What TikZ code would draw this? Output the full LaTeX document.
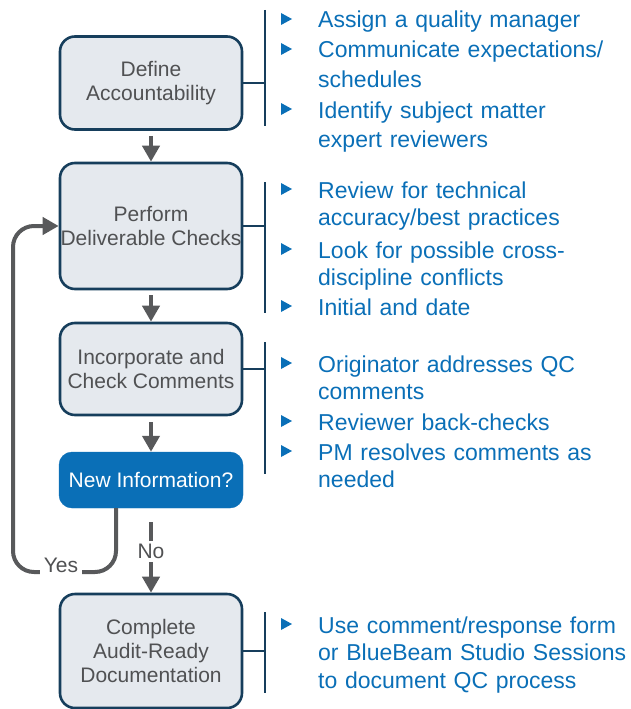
\documentclass[tikz,border=0pt]{standalone}
\usepackage{fontspec}
\setmainfont{Liberation Sans}
\usetikzlibrary{arrows.meta,calc}

\definecolor{navy}{HTML}{163E5C}
\definecolor{boxfill}{HTML}{E5E9EE}
\definecolor{boxtext}{HTML}{505153}
\definecolor{arrowgray}{HTML}{58595B}
\definecolor{itemblue}{HTML}{0A6FB7}

\begin{document}
\begin{tikzpicture}[x=1pt,y=-1pt,
  stepbox/.style={draw=navy, line width=2.6pt, fill=boxfill, rounded corners=15pt,
    minimum width=182pt, text=boxtext, align=center, inner sep=0pt,
    font=\fontsize{21}{24}\selectfont},
  decision/.style={draw=itemblue, fill=itemblue, rounded corners=13pt,
    minimum width=184pt, minimum height=56pt, text=white, inner sep=0pt,
    font=\fontsize{21}{24}\selectfont},
  flow/.style={draw=arrowgray, line width=4pt, -{Triangle[length=16pt,width=17pt]}},
  bracket/.style={draw=navy, line width=2.6pt},
  item/.style={anchor=base west, text width=320pt, align=left, inner sep=0pt,
    text=itemblue, font=\fontsize{23}{27.5}\selectfont},
  flowlabel/.style={fill=white, inner sep=3pt, text=boxtext,
    font=\fontsize{21}{24}\selectfont}
]
\useasboundingbox (0,0) rectangle (630,709);

% bullet marker placed left of an item node
\newcommand\itemmark[1]{\fill[itemblue] ([shift={(-37,-15)}]#1.base west) -- ++(11,6) -- ++(-11,6) -- cycle;}

% process steps
\node[stepbox, minimum height=93pt] (s1) at (151,83) {Define\\Accountability};
\node[stepbox, minimum height=126pt] (s2) at (151,226) {Perform\\Deliverable Checks};
\node[stepbox, minimum height=92pt] (s3) at (151,369) {Incorporate and\\Check Comments};
\node[decision] (q) at (151,480) {New Information?};
\node[stepbox, minimum height=114pt] (s5) at (151,651) {Complete\\Audit-Ready\\Documentation};

% main flow
\draw[flow, shorten <=5pt] (s1.south) -- (s2.north);
\draw[flow, shorten <=5pt] (s2.south) -- (s3.north);
\draw[flow, shorten <=6pt] (s3.south) -- (q.north);
\draw[flow] ([yshift=-14pt]q.south) -- node[flowlabel, pos=0.42] (no) {No} (s5.north);

% loop back on new information
\coordinate (yesA) at ($(q.south)+(-35,0)$);
\coordinate (yesB) at (116,572);
\coordinate (yesC) at (13,572);
\coordinate (yesD) at (13,226);
\draw[flow, rounded corners=21pt] (yesA) -- (yesB) -- (yesC) -- (yesD) -- (s2.west);
\node[flowlabel, inner sep=4pt] (yes) at (61,565) {Yes};

% brackets with their items
\coordinate (b1t) at (265,10);  \coordinate (b1b) at (265,126);
\draw[bracket] (s1.east) -- (s1.east -| b1t);
\draw[bracket] (b1t) -- (b1b);
\node[item, font=\fontsize{23}{29}\selectfont] (a1) at (318,28) {Assign a quality manager};
\node[item, font=\fontsize{23}{29}\selectfont] (a2) at (318,58) {Communicate expectations/\\schedules};
\node[item, font=\fontsize{23}{29}\selectfont] (a3) at (318,118) {Identify subject matter\\expert reviewers};
\itemmark{a1}\itemmark{a2}\itemmark{a3}

\coordinate (b2t) at (265,182);  \coordinate (b2b) at (265,313);
\draw[bracket] (s2.east) -- (s2.east -| b2t);
\draw[bracket] (b2t) -- (b2b);
\node[item] (c1) at (318,198) {Review for technical\\accuracy/best practices};
\node[item] (c2) at (318,258) {Look for possible cross-\\discipline conflicts};
\node[item] (c3) at (318,315) {Initial and date};
\itemmark{c1}\itemmark{c2}\itemmark{c3}

\coordinate (b3t) at (265,342);  \coordinate (b3b) at (265,474);
\draw[bracket] (s3.east) -- (s3.east -| b3t);
\draw[bracket] (b3t) -- (b3b);
\node[item] (d1) at (318,372) {Originator addresses QC\\comments};
\node[item] (d2) at (318,430) {Reviewer back-checks};
\node[item] (d3) at (318,460) {PM resolves comments as\\needed};
\itemmark{d1}\itemmark{d2}\itemmark{d3}

\coordinate (b5t) at (265,612);  \coordinate (b5b) at (265,693);
\draw[bracket] (s5.east) -- (s5.east -| b5t);
\draw[bracket] (b5t) -- (b5b);
\node[item] (e1) at (318,633) {Use comment/response form\\or BlueBeam Studio Sessions\\to document QC process};
\itemmark{e1}
\end{tikzpicture}
\end{document}
